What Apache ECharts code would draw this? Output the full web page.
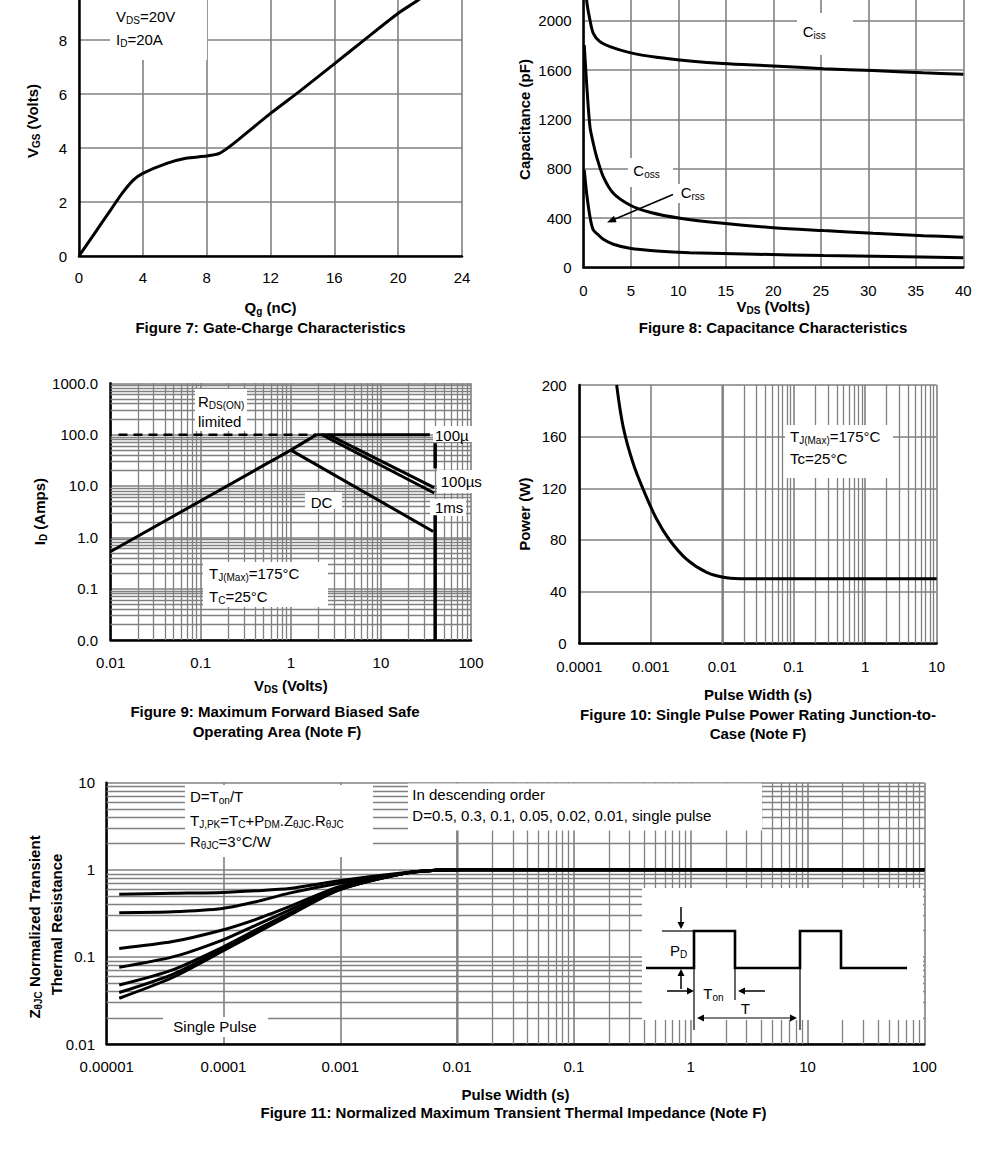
<!DOCTYPE html>
<html><head><meta charset="utf-8">
<script src="https://cdn.jsdelivr.net/npm/echarts@6/dist/echarts.min.js"></script>
<style>html,body{margin:0;padding:0;background:#fff}#c{width:990px;height:1154px}</style>
</head><body><div id="c"></div>
<script>
// ================= DATA =================
// Figure 7: Gate charge
const fig7Qg  = [0, 1, 2, 2.7, 3.4, 4.0, 5.5, 6.7, 8.0, 8.8, 9.7, 12.0, 13.8, 15.9, 18.0, 20.0, 21.3, 22.0];
const fig7Vgs = [0, 0.86, 1.72, 2.32, 2.81, 3.06, 3.43, 3.62, 3.70, 3.80, 4.17, 5.28, 6.09, 7.07, 8.06, 8.99, 9.5, 9.85];
const fig7XTicks = [0, 4, 8, 12, 16, 20, 24];
const fig7YTicks = [0, 2, 4, 6, 8, 10];

// Figure 8: Capacitance
const fig8CissV = [0.1, 0.35, 0.7, 1.05, 1.75, 2.8, 4.9, 7.7, 11.2, 14.7, 20, 25.3, 30.5, 35.8, 40];
const fig8CissC = [2600, 2170, 2008, 1900, 1832, 1792, 1743, 1705, 1675, 1654, 1635, 1613, 1597, 1580, 1567];
const fig8CossV = [0.1, 0.35, 0.7, 1.05, 1.4, 2.1, 3.16, 4.9, 7.0, 10.2, 14.7, 20, 25.3, 30.5, 35.8, 40];
const fig8CossC = [1805, 1494, 1142, 1007, 898, 736, 601, 506, 447, 398, 357, 322, 298, 276, 257, 244];
const fig8CrssV = [0.1, 0.35, 0.7, 1.05, 1.6, 2.1, 3.16, 4.9, 7.7, 11.2, 18.2, 25.3, 32.3, 40];
const fig8CrssC = [790, 601, 411, 303, 262, 227, 187, 154, 133, 119, 106, 95, 87, 78];
const fig8XTicks = [0, 5, 10, 15, 20, 25, 30, 35, 40];
const fig8YTicks = [0, 400, 800, 1200, 1600, 2000, 2400];

// Figure 9: Safe operating area
const fig9RdsV = [0.0122, 1.93];      const fig9RdsI = [100, 100];
const fig9FlatV = [1.93, 35];         const fig9FlatI = [100, 100];
const fig9RiseV = [0.01, 1, 1.93];    const fig9RiseI = [0.53, 50, 100];
const fig9DcV = [1, 38];              const fig9DcI = [50, 1.3];
const fig9Us100V = [2.6, 39];         const fig9Us100I = [100, 9.3];
const fig9Ms1V = [2.2, 39];           const fig9Ms1I = [100, 7.3];
const fig9VlimLowV = [40, 40];        const fig9VlimLowI = [0.01, 2.7];
const fig9VlimHighV = [40, 40];       const fig9VlimHighI = [22, 68];
const fig9XLabels = ['0.01', '0.1', '1', '10', '100'];
const fig9YLabels = ['0.0', '0.1', '1.0', '10.0', '100.0', '1000.0'];

// Figure 10: Single pulse power
const fig10T = [3.33e-4, 4.13e-4, 5.69e-4, 8.0e-4, 1.21e-3, 1.83e-3, 3.18e-3, 6.05e-3, 0.0115, 0.022, 0.1, 1, 10];
const fig10P = [200, 167, 139, 118, 96, 80, 65, 55, 50.8, 50, 50, 50, 50];
const fig10XLabels = ['0.0001', '0.001', '0.01', '0.1', '1', '10'];
const fig10YTicks = [0, 40, 80, 120, 160, 200];

// Figure 11: Transient thermal impedance
const fig11T      = [1.28e-5, 3.67e-5, 9.8e-5, 1.9e-4, 3.66e-4, 9.8e-4, 3.65e-3, 6.6e-3, 0.0113, 100];
const fig11D050   = [0.523, 0.537, 0.55, 0.575, 0.61, 0.75, 0.93, 0.99, 1.0, 1.0];
const fig11D030   = [0.322, 0.33, 0.36, 0.43, 0.54, 0.70, 0.92, 0.99, 1.0, 1.0];
const fig11D010   = [0.125, 0.15, 0.204, 0.27, 0.377, 0.64, 0.92, 0.99, 1.0, 1.0];
const fig11D005   = [0.076, 0.10, 0.156, 0.232, 0.345, 0.61, 0.92, 0.99, 1.0, 1.0];
const fig11D002   = [0.0475, 0.071, 0.129, 0.204, 0.316, 0.60, 0.92, 0.99, 1.0, 1.0];
const fig11D001   = [0.039, 0.063, 0.122, 0.195, 0.31, 0.59, 0.92, 0.99, 1.0, 1.0];
const fig11Single = [0.0335, 0.058, 0.116, 0.187, 0.30, 0.59, 0.92, 0.99, 1.0, 1.0];
const fig11XLabels = ['0.00001', '0.0001', '0.001', '0.01', '0.1', '1', '10', '100'];
const fig11YLabels = ['0.01', '0.1', '1', '10'];

// ================= HELPERS =================
const FONT = '"Liberation Sans", Arial, Helvetica, sans-serif';
const GRAY = '#808080';
const zip = (a, b) => a.map((v, i) => [v, b[i]]);
const R  = {fontSize: 15, fontFamily: FONT, color: '#000', lineHeight: 18};
const RS = {fontSize: 10, fontFamily: FONT, color: '#000', lineHeight: 10, verticalAlign: 'bottom'};
const B  = Object.assign({}, R, {fontWeight: 'bold'});
const BS = Object.assign({}, RS, {fontWeight: 'bold'});
const richR = {n: R, s: RS};
const richB = {n: B, s: BS};
function rt(s) {
  return s.split('\n').map(line => line.split(/(_\{[^}]*\})/).filter(p => p.length)
    .map(p => p.startsWith('_{') ? '{s|' + p.slice(2, -1) + '}' : '{n|' + p + '}').join('')).join('\n');
}
function logMinor(e0, e1) { const o = []; for (let e = e0; e < e1; e++) for (let m = 2; m <= 9; m++) o.push(+(m * Math.pow(10, e)).toPrecision(6)); return o; }
const logFmt = (labels, e0) => v => labels[Math.round(Math.log10(v)) - e0];

const axisLineOn = {show: true, onZero: false, lineStyle: {color: '#000', width: 2.5}};
const split = {show: true, lineStyle: {color: GRAY, width: 1.6}};
const lbl = (margin, extra) => Object.assign({color: '#000', fontSize: 15, fontFamily: FONT, margin: margin}, extra || {});
const nameStyle = (rich) => ({rich: rich || richB, fontSize: 15, fontWeight: 'bold', fontFamily: FONT, color: '#000'});

function curve(gi, data, extra) {
  return Object.assign({type: 'line', xAxisIndex: gi, yAxisIndex: gi, data: data, symbol: 'none', z: 3,
    lineStyle: {color: '#000', width: 3}, silent: true, animation: false}, extra || {});
}
function gridLines(gi, xs, ys) {
  return {type: 'line', xAxisIndex: gi, yAxisIndex: gi, data: [], z: 1, silent: true,
    markLine: {silent: true, symbol: ['none', 'none'], animation: false, label: {show: false}, z: 1,
      lineStyle: {color: GRAY, width: 1.3, type: 'solid'}, emphasis: {disabled: true},
      data: xs.map(v => ({xAxis: v})).concat(ys.map(v => ({yAxis: v})))}};
}

// graphic helpers
function box(x, y, w, h) { return {type: 'rect', z: 2, silent: true, shape: {x, y, width: w, height: h}, style: {fill: '#fff'}}; }
function txt(x, y, s, opt) {
  opt = opt || {};
  const al = opt.align || 'left';
  return {type: 'text', x, y, z: 10, silent: true, rotation: opt.rotation || 0,
    style: {text: rt(s), rich: opt.bold ? richB : richR, fontSize: 15, fontFamily: FONT, fontWeight: opt.bold ? 'bold' : 'normal',
      fill: '#000', align: al, verticalAlign: 'middle', textAlign: al, textVerticalAlign: 'middle'}};
}
function seg(x1, y1, x2, y2, w) { return {type: 'line', z: 10, silent: true, shape: {x1, y1, x2, y2}, style: {stroke: '#000', lineWidth: w || 1.5}}; }
function head(tx, ty, dx, dy, len, hw) {
  len = len || 8; hw = hw || 3.5;
  const bx = tx - dx * len, by = ty - dy * len, nx = -dy * hw, ny = dx * hw;
  return {type: 'polygon', z: 10, silent: true, shape: {points: [[tx, ty], [bx + nx, by + ny], [bx - nx, by - ny]]}, style: {fill: '#000'}};
}

// ================= OPTION =================
const grids = [
  {left: 79, top: -14, width: 383, height: 270},
  {left: 583.3, top: -28.3, width: 380, height: 295.6},
  {left: 110.7, top: 383.3, width: 360.3, height: 256.7},
  {left: 579.3, top: 385, width: 357.4, height: 258.3},
  {left: 106.7, top: 782.7, width: 817.6, height: 261.3}
].map(g => Object.assign({containLabel: false, outerBoundsMode: 'none', show: false}, g));

const xAxis = [
  {gridIndex: 0, type: 'value', min: fig7XTicks[0], max: fig7XTicks[fig7XTicks.length - 1], interval: 4,
   axisLine: axisLineOn, axisTick: {show: false}, splitLine: split, axisLabel: lbl(14, {formatter: v => String(v)}),
   name: rt('Q_{g} (nC)'), nameLocation: 'middle', nameGap: 42, nameTextStyle: nameStyle()},
  {gridIndex: 1, type: 'value', min: fig8XTicks[0], max: fig8XTicks[fig8XTicks.length - 1], interval: 5,
   axisLine: axisLineOn, axisTick: {show: false}, splitLine: split, axisLabel: lbl(16, {formatter: v => String(v)}),
   name: rt('V_{DS} (Volts)'), nameLocation: 'middle', nameGap: 30, nameTextStyle: nameStyle()},
  {gridIndex: 2, type: 'log', logBase: 10, min: 0.01, max: 100, splitNumber: 4,
   axisLine: axisLineOn, axisTick: {show: false}, splitLine: split, axisLabel: lbl(15, {formatter: logFmt(fig9XLabels, -2)}),
   name: rt('V_{DS} (Volts)'), nameLocation: 'middle', nameGap: 36, nameTextStyle: nameStyle()},
  {gridIndex: 3, type: 'log', logBase: 10, min: 0.0001, max: 10, splitNumber: 5,
   axisLine: axisLineOn, axisTick: {show: false}, splitLine: split, axisLabel: lbl(16, {formatter: logFmt(fig10XLabels, -4)}),
   name: rt('Pulse Width (s)'), nameLocation: 'middle', nameGap: 42, nameTextStyle: nameStyle()},
  {gridIndex: 4, type: 'log', logBase: 10, min: 0.00001, max: 100, splitNumber: 7,
   axisLine: axisLineOn, axisTick: {show: false}, splitLine: split, axisLabel: lbl(14.5, {formatter: logFmt(fig11XLabels, -5)}),
   name: rt('Pulse Width (s)'), nameLocation: 'middle', nameGap: 41, nameTextStyle: nameStyle()}
];
const yAxis = [
  {gridIndex: 0, type: 'value', min: fig7YTicks[0], max: fig7YTicks[fig7YTicks.length - 1], interval: 2,
   axisLine: axisLineOn, axisTick: {show: false}, splitLine: split,
   axisLabel: lbl(12, {formatter: v => String(v), showMaxLabel: false}),
   name: rt('V_{GS} (Volts)'), nameLocation: 'middle', nameGap: 38, nameTextStyle: nameStyle()},
  {gridIndex: 1, type: 'value', min: fig8YTicks[0], max: fig8YTicks[fig8YTicks.length - 1], interval: 400,
   axisLine: axisLineOn, axisTick: {show: false}, splitLine: split,
   axisLabel: lbl(11.6, {formatter: v => String(v), showMaxLabel: false}),
   name: rt('Capacitance (pF)'), nameLocation: 'middle', nameGap: 50, nameTextStyle: nameStyle()},
  {gridIndex: 2, type: 'log', logBase: 10, min: 0.01, max: 1000, splitNumber: 5,
   axisLine: axisLineOn, axisTick: {show: false}, splitLine: split, axisLabel: lbl(12.7, {formatter: logFmt(fig9YLabels, -2)}),
   name: rt('I_{D} (Amps)'), nameLocation: 'middle', nameGap: 60, nameTextStyle: nameStyle()},
  {gridIndex: 3, type: 'value', min: fig10YTicks[0], max: fig10YTicks[fig10YTicks.length - 1], interval: 40,
   axisLine: axisLineOn, axisTick: {show: false}, splitLine: split, axisLabel: lbl(12.6, {formatter: v => String(v)}),
   name: rt('Power (W)'), nameLocation: 'middle', nameGap: 46, nameTextStyle: nameStyle()},
  {gridIndex: 4, type: 'log', logBase: 10, min: 0.01, max: 10, splitNumber: 3,
   axisLine: axisLineOn, axisTick: {show: false}, splitLine: split, axisLabel: lbl(11.7, {formatter: logFmt(fig11YLabels, -2)})}
];

const series = [
  // Fig 7
  curve(0, zip(fig7Qg, fig7Vgs), {smooth: 0.2}),
  // Fig 8
  curve(1, zip(fig8CissV, fig8CissC), {smooth: 0.3}),
  curve(1, zip(fig8CossV, fig8CossC), {smooth: 0.3}),
  curve(1, zip(fig8CrssV, fig8CrssC), {smooth: 0.3}),
  // Fig 9
  gridLines(2, logMinor(-2, 2), logMinor(-2, 3)),
  curve(2, zip(fig9RdsV, fig9RdsI), {lineStyle: {color: '#000', width: 2.5, type: [9, 6]}}),
  curve(2, zip(fig9FlatV, fig9FlatI)),
  curve(2, zip(fig9RiseV, fig9RiseI)),
  curve(2, zip(fig9DcV, fig9DcI)),
  curve(2, zip(fig9Us100V, fig9Us100I)),
  curve(2, zip(fig9Ms1V, fig9Ms1I)),
  curve(2, zip(fig9VlimLowV, fig9VlimLowI), {lineStyle: {color: '#000', width: 3.5}}),
  curve(2, zip(fig9VlimHighV, fig9VlimHighI), {lineStyle: {color: '#000', width: 3.5}}),
  // Fig 10
  gridLines(3, logMinor(-4, 1), []),
  curve(3, zip(fig10T, fig10P), {smooth: 0.35}),
  // Fig 11
  gridLines(4, logMinor(-5, 2), logMinor(-2, 1)),
  curve(4, zip(fig11T, fig11D050), {smooth: 0.25}),
  curve(4, zip(fig11T, fig11D030), {smooth: 0.25}),
  curve(4, zip(fig11T, fig11D010), {smooth: 0.25}),
  curve(4, zip(fig11T, fig11D005), {smooth: 0.25}),
  curve(4, zip(fig11T, fig11D002), {smooth: 0.25}),
  curve(4, zip(fig11T, fig11D001), {smooth: 0.25}),
  curve(4, zip(fig11T, fig11Single), {smooth: 0.25})
];

const graphic = [
  // Fig 7
  box(110, -2, 97, 62), txt(116, 16.7, 'V_{DS}=20V'), txt(116, 39.3, 'I_{D}=20A'),
  txt(270.5, 327.5, 'Figure 7: Gate-Charge Characteristics', {bold: true, align: 'center'}),
  // Fig 8
  box(797, 13, 56, 42), txt(802.7, 31.7, 'C_{iss}'),
  box(628, 158, 45, 29), txt(633.3, 170, 'C_{oss}'),
  box(677, 184, 35, 19), txt(680.7, 192.7, 'C_{rss}'),
  seg(673, 194.5, 614, 219.5, 1.5), head(607, 222.5, -0.92, 0.39, 9, 3.5),
  txt(773, 327.5, 'Figure 8: Capacitance Characteristics', {bold: true, align: 'center'}),
  // Fig 9
  box(195, 389, 52, 42), txt(198, 401.7, 'R_{DS(ON)}'), txt(198, 421.7, 'limited'),
  box(433, 426, 47, 16), txt(435, 435, '100µ'),
  box(437, 470, 46, 23), txt(440.7, 481.7, '100µs'),
  box(430, 499, 36, 17), txt(435, 507.7, '1ms'),
  box(305, 492, 37, 17), txt(310.7, 502.3, 'DC'),
  box(203, 562, 125, 45), txt(209, 573.3, 'T_{J(Max)}=175°C'), txt(209, 596, 'T_{C}=25°C'),
  txt(275, 711.7, 'Figure 9: Maximum Forward Biased Safe', {bold: true, align: 'center'}),
  txt(277, 731, 'Operating Area (Note F)', {bold: true, align: 'center'}),
  // Fig 10
  box(785, 425, 108, 53), txt(790, 436.7, 'T_{J(Max)}=175°C'), txt(790, 458.3, 'Tc=25°C'),
  txt(758, 714, 'Figure 10: Single Pulse Power Rating Junction-to-', {bold: true, align: 'center'}),
  txt(758, 733.5, 'Case (Note F)', {bold: true, align: 'center'}),
  // Fig 11
  txt(34, 927, 'Z_{θJC} Normalized Transient', {bold: true, align: 'center', rotation: Math.PI / 2}),
  txt(56, 924.5, 'Thermal Resistance', {bold: true, align: 'center', rotation: Math.PI / 2}),
  box(185, 785, 188, 72),
  txt(190, 796.7, 'D=T_{on}/T'), txt(190, 820, 'T_{J,PK}=T_{C}+P_{DM}.Z_{θJC}.R_{θJC}'), txt(190, 841.7, 'R_{θJC}=3°C/W'),
  box(408, 783.5, 354, 47),
  txt(412.3, 794.3, 'In descending order'), txt(412.3, 815, 'D=0.5, 0.3, 0.1, 0.05, 0.02, 0.01, single pulse'),
  box(163, 1017, 105, 20), txt(173.3, 1026, 'Single Pulse'),
  box(642, 888, 281, 132),
  {type: 'polyline', z: 10, silent: true, shape: {points: [[646, 968], [694, 968], [694, 931], [735, 931], [735, 968], [800, 968], [800, 931], [841, 931], [841, 968], [907, 968]]},
   style: {stroke: '#000', lineWidth: 2.6, fill: null}},
  seg(662, 931, 694, 931, 1.2),
  seg(681, 907, 681, 922, 1.5), head(681, 929, 0, 1, 7, 3.5),
  seg(681, 989, 681, 976, 1.5), head(681, 969, 0, -1, 7, 3.5),
  seg(667, 991, 687, 991, 1.5), head(694, 991, 1, 0, 7, 3.5),
  seg(765, 991, 745, 991, 1.5), head(738, 991, -1, 0, 7, 3.5),
  seg(694, 968, 694, 1030, 1.2), seg(735, 968, 735, 1000, 1.2), seg(800, 968, 800, 1030, 1.2),
  seg(704, 1018, 790, 1018, 1.2), head(697, 1018, -1, 0, 7, 3.5), head(797, 1018, 1, 0, 7, 3.5),
  txt(670, 950, 'P_{D}'), txt(703.3, 993.3, 'T_{on}'), txt(740.7, 1008.3, 'T'),
  txt(513.5, 1112.5, 'Figure 11: Normalized Maximum Transient Thermal Impedance (Note F)', {bold: true, align: 'center'})
];

const chart = echarts.init(document.getElementById('c'), null, {renderer: 'svg', width: 990, height: 1154});
chart.setOption({
  backgroundColor: '#fff',
  animation: false,
  grid: grids,
  xAxis: xAxis,
  yAxis: yAxis,
  series: series,
  graphic: {elements: graphic}
});
</script>
</body></html>
